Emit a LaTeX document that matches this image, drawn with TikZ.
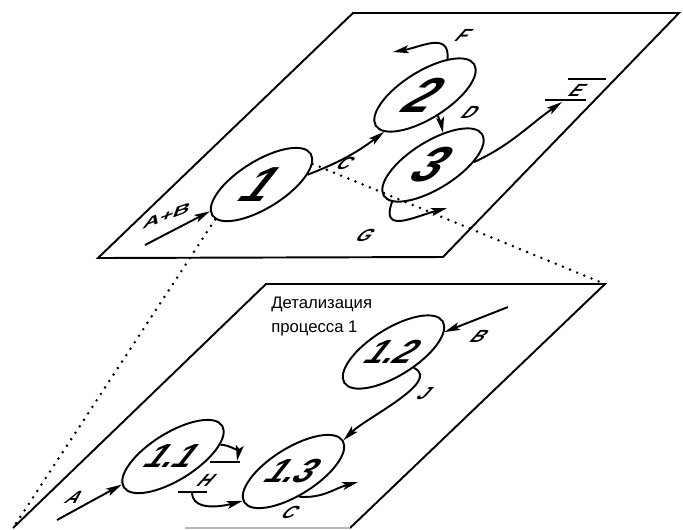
\documentclass[tikz,border=0pt]{standalone}
\usepackage{fontspec}
\setmainfont{Liberation Sans}
\usetikzlibrary{shapes.geometric,arrows.meta}

\tikzset{
    plane/.style={
        line width=1.1pt,
        line join=miter
    },
    proc/.style={
        ellipse,
        draw,
        line width=1.1pt,
        minimum width=2.32cm,
        minimum height=0.94cm,
        inner sep=0pt,
        rotate=32
    },
    procnum/.style={
        font=\fontsize{28}{28}\selectfont\bfseries,
        xslant=0.8,
        inner sep=0pt
    },
    subnum/.style={
        procnum,
        font=\fontsize{19}{19}\selectfont\bfseries
    },
    flow/.style={
        -{Stealth[length=9pt,width=4.5pt,inset=2pt]},
        line width=1.1pt
    },
    flowname/.style={
        font=\fontsize{10}{10}\selectfont\bfseries,
        xslant=0.9,
        inner sep=0pt
    },
    detail/.style={
        line width=1.6pt,
        line cap=round,
        dash pattern=on 0pt off 4.4pt
    },
    storeline/.style={
        line width=1.1pt
    }
}

\begin{document}
\begin{tikzpicture}[x=0.02cm, y=0.02cm]
    \useasboundingbox (0,0) rectangle (683,-529);

    % Top plane
    \coordinate (tp-nw) at (353,-13);
    \coordinate (tp-ne) at (679,-13);
    \coordinate (tp-se) at (443,-257);
    \coordinate (tp-sw) at (98,-258);
    \draw[plane] (tp-nw) -- (tp-ne) -- (tp-se) -- (tp-sw) -- cycle;

    % Lower plane
    \coordinate (lp-nw) at (266,-284);
    \coordinate (lp-ne) at (605,-284);
    \coordinate (lp-se) at (350,-528);
    \coordinate (lp-sw) at (13,-528);
    \draw[plane] (lp-sw) -- (lp-nw) -- (lp-ne) -- (lp-se);
    \draw[plane, gray!55] (185,-528) -- (lp-se);

    % Processes of the top plane
    \node[proc] (p1) at (261.5,-184.5) {};
    \node[proc] (p2) at (425,-95) {};
    \node[proc] (p3) at (433,-165) {};
    \node[procnum] (n1) at (p1) {1};
    \node[procnum] (n2) at (p2) {2};
    \node[procnum] (n3) at (p3) {3};

    % Flows of the top plane
    \coordinate (ab) at (145,-245);
    \coordinate (fend) at (393,-52);
    \coordinate (eend) at (562,-102);
    \coordinate (gend) at (447,-208);
    \draw[flow] (ab) -- (p1);
    \draw[flow] (p1.-20) to[bend right=8] (p2.190);
    \draw[flow] (p2.south) to[out=-70,in=100] (p3.41);
    \draw[flow] (p2.26) to[out=85,in=10,looseness=1.3] (fend);
    \draw[flow] (p3.-28) to[out=25,in=215] (eend);
    \draw[flow] (p3.190) to[out=250,in=195,looseness=1.6] (gend);

    % Store E
    \draw[storeline] (568,-79) -- (606,-79);
    \draw[storeline] (545,-100) -- (586,-100);
    \node[flowname] (stE) at (578,-90) {E};

    % Flow names, top plane
    \node[flowname, rotate=28] (lab) at (167,-216) {A+B};
    \node[flowname] (lc) at (346,-163) {C};
    \node[flowname] (ld) at (471,-112) {D};
    \node[flowname] (lf) at (464,-35) {F};
    \node[flowname] (lg) at (366,-235) {G};

    % Processes of the lower plane
    \node[proc] (p11) at (173,-456.5) {};
    \node[proc] (p12) at (393.5,-352) {};
    \node[proc] (p13) at (293.5,-471.5) {};
    \node[subnum] (n11) at (p11) {1.1};
    \node[subnum] (n12) at (p12) {1.2};
    \node[subnum] (n13) at (p13) {1.3};

    \node[anchor=north west, align=left, inner sep=0pt,
          font=\fontsize{9.5}{13.6}\selectfont] (title) at (271,-297)
        {Детализация\\процесса 1};

    % Flows of the lower plane
    \coordinate (ain) at (57,-520);
    \coordinate (bin) at (508,-307);
    \coordinate (htop) at (237,-461);
    \coordinate (hbot) at (192,-492);
    \coordinate (cout) at (358,-482);
    \draw[flow] (ain) -- (p11);
    \draw[flow] (bin) -- (p12);
    \draw[flow] (p12.-70) to[out=-25,in=45,looseness=0.8] (p13.east);
    \draw[flow] (p11.-18) to[out=0,in=80] (htop);
    \draw[flow] (hbot) to[out=-90,in=195] (p13.178);
    \draw[flow] (p13.250) to[out=-5,in=195] (cout);

    % Store H
    \draw[storeline] (210,-462) -- (240,-462);
    \draw[storeline] (178,-492) -- (207,-492);
    \node[flowname] (lh) at (207,-480) {H};

    % Flow names, lower plane
    \node[flowname] (la) at (75,-497) {A};
    \node[flowname] (lb) at (480,-336) {B};
    \node[flowname] (lj) at (425,-394) {J};
    \node[flowname] (lc2) at (291,-512) {C};

    % Projection of process 1 onto its detail
    \draw[detail] (p1.185) -- (lp-sw);
    \draw[detail] (p1.-10) -- (lp-ne);
\end{tikzpicture}
\end{document}
